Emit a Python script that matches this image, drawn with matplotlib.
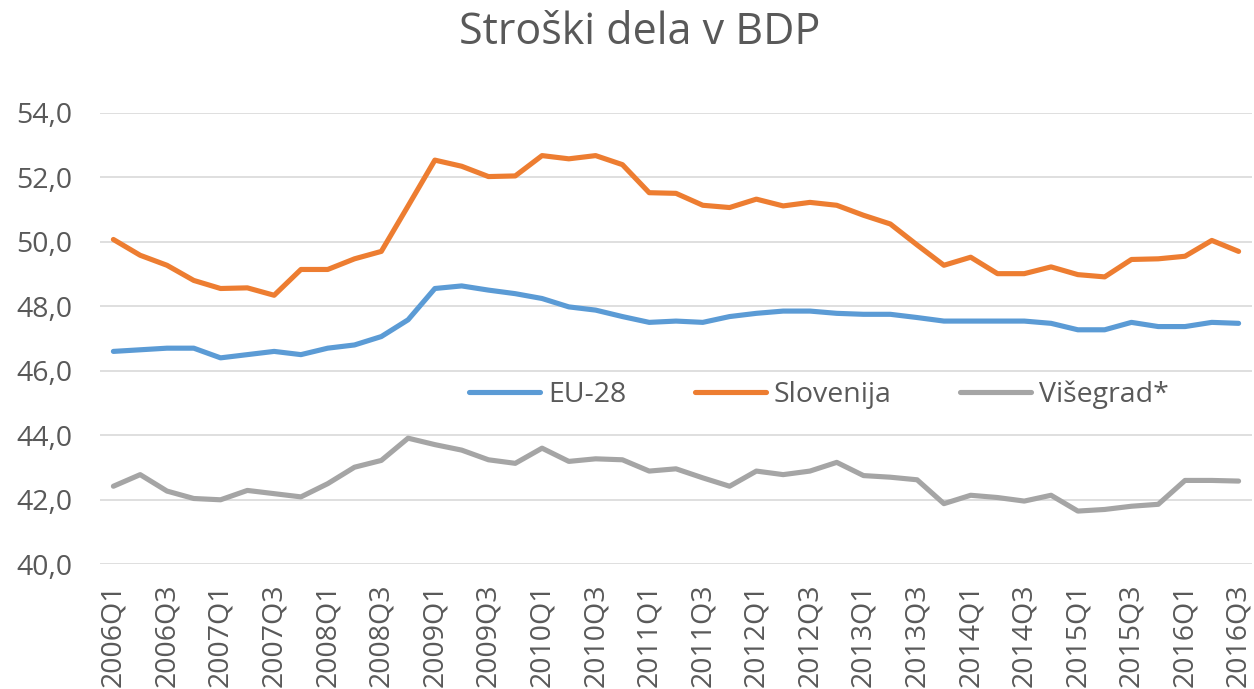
import matplotlib
matplotlib.use("Agg")
import matplotlib.pyplot as plt
from matplotlib.ticker import FuncFormatter

plt.rcParams['font.family'] = ['Open Sans', 'DejaVu Sans']

years = list(range(2006, 2017))
quarters = [f"{y}Q{q}" for y in years for q in range(1, 5)][:43]

eu28 = [46.6, 46.65, 46.7, 46.7, 46.4, 46.5, 46.6, 46.5, 46.7, 46.8,
        47.06, 47.58, 48.55, 48.63, 48.5, 48.39, 48.24, 47.98, 47.88, 47.68,
        47.5, 47.54, 47.5, 47.68, 47.78, 47.85, 47.85, 47.78, 47.75, 47.75,
        47.65, 47.54, 47.54, 47.54, 47.54, 47.47, 47.27, 47.27, 47.5, 47.37,
        47.37, 47.5, 47.47]
slovenija = [50.07, 49.58, 49.27, 48.8, 48.55, 48.57, 48.34, 49.14, 49.14, 49.47,
             49.7, 51.11, 52.53, 52.34, 52.02, 52.04, 52.67, 52.57, 52.67, 52.39,
             51.52, 51.5, 51.13, 51.06, 51.32, 51.11, 51.22, 51.13, 50.82, 50.55,
             49.9, 49.27, 49.52, 49.01, 49.01, 49.22, 48.98, 48.91, 49.45, 49.47,
             49.55, 50.04, 49.7]
visegrad = [42.42, 42.78, 42.27, 42.04, 42.0, 42.29, 42.19, 42.09, 42.5, 43.01,
            43.22, 43.91, 43.71, 43.54, 43.24, 43.13, 43.6, 43.19, 43.27, 43.24,
            42.89, 42.96, 42.68, 42.42, 42.89, 42.78, 42.89, 43.16, 42.75, 42.7,
            42.62, 41.88, 42.14, 42.07, 41.96, 42.14, 41.65, 41.7, 41.8, 41.86,
            42.6, 42.6, 42.58]

series_names = ["EU-28", "Slovenija", "Višegrad*"]
colors = ["#5B9BD5", "#ED7D31", "#A5A5A5"]
yticks = [40, 42, 44, 46, 48, 50, 52, 54]

txt = "#595959"

fig = plt.figure(figsize=(12.54, 6.89), dpi=100)
ax = fig.add_axes([100/1254, 1-564.3/689, 1152/1254, (564.3-112.7)/689])

x = list(range(len(quarters)))
for vals, name, c in zip([eu28, slovenija, visegrad], series_names, colors):
    ax.plot(x, vals, color=c, lw=3.7, label=name, solid_joinstyle='round', solid_capstyle='round')

ax.set_xlim(-0.5, len(quarters) - 0.5)
ax.set_ylim(40, 54)
ax.set_yticks(yticks)
ax.yaxis.set_major_formatter(FuncFormatter(lambda v, p: f"{v:.1f}".replace('.', ',')))
ax.set_xticks(x[::2])
ax.set_xticklabels(quarters[::2], rotation=90, va='top', ha='center')
ax.tick_params(axis='both', length=0, colors=txt, labelsize=20.5)
ax.tick_params(axis='y', pad=20)
ax.tick_params(axis='x', pad=14)
ax.grid(axis='y', color='#D9D9D9', lw=1.2)
ax.set_axisbelow(True)
for s in ax.spines.values():
    s.set_visible(False)

leg = ax.legend(loc='center', bbox_to_anchor=(0.624, 0.375), ncol=3, frameon=False,
                fontsize=20.5, handlelength=2.5, handletextpad=0.28, columnspacing=2.4)
for t in leg.get_texts():
    t.set_color(txt)

fig.text(640/1254, 1-33/689, "Stroški dela v BDP", ha='center', va='center',
         fontsize=31, color=txt)

fig.savefig("out.png", dpi=100)
